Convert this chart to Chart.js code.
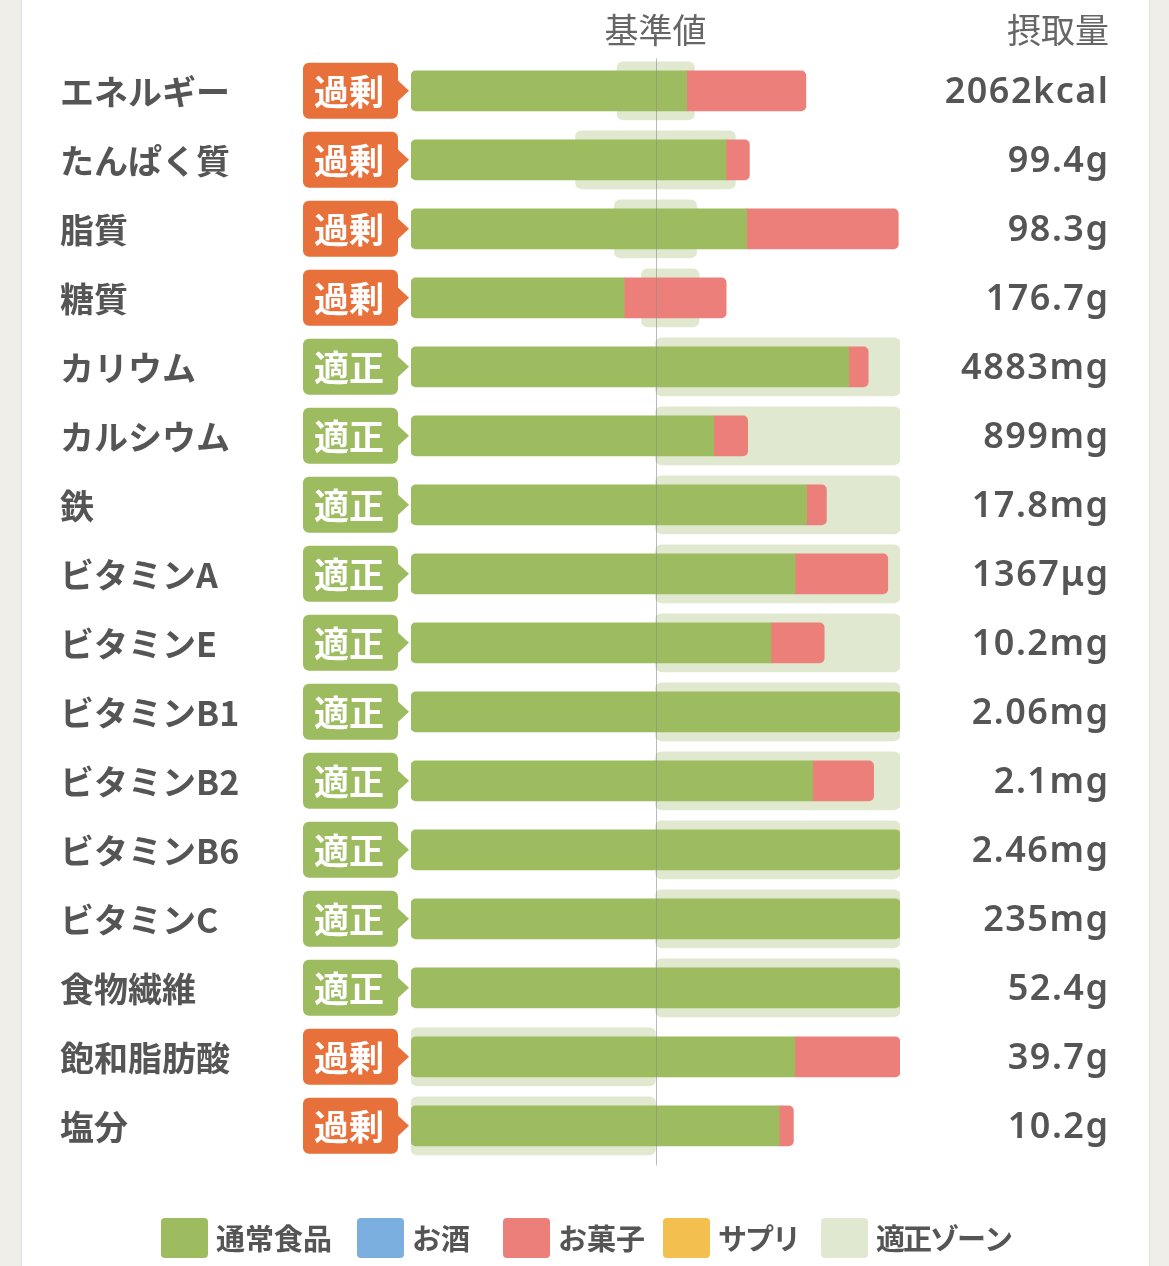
<!DOCTYPE html>
<html lang="ja">
<head>
<meta charset="utf-8">
<title>栄養素バランス</title>
<script src="https://cdn.jsdelivr.net/npm/chart.js@4.4.0/dist/chart.umd.min.js"></script>
<style>
html, body { margin: 0; padding: 0; background: #efeee9; overflow: hidden; }
#card {
    position: absolute; left: 21px; top: 0; width: 1127px; height: 1266px;
    background: #fff; border-left: 1px solid #e2e1db; border-right: 1px solid #e2e1db;
}
#wrap { position: absolute; left: 0; top: 0; width: 1169px; height: 1266px; }
</style>
</head>
<body>
<div id="card"></div>
<div id="wrap"><canvas id="chart" width="1169" height="1266"></canvas></div>
<script>
// ----- data (percent of 基準値, axis clipped at 200) -----
const nutrients = ['エネルギー', 'たんぱく質', '脂質', '糖質', 'カリウム', 'カルシウム', '鉄',
    'ビタミンA', 'ビタミンE', 'ビタミンB1', 'ビタミンB2', 'ビタミンB6', 'ビタミンC',
    '食物繊維', '飽和脂肪酸', '塩分'];
const judgement = ['過剰', '過剰', '過剰', '過剰', '適正', '適正', '適正', '適正', '適正',
    '適正', '適正', '適正', '適正', '適正', '過剰', '過剰'];
const normalFood = [112.7, 128.8, 137.3, 87.2, 179.1, 123.8, 161.8, 157.1, 147.2,
    200, 164.3, 200, 200, 200, 157.0, 150.6];
const snacks = [48.8, 9.6, 62.0, 41.7, 7.9, 13.9, 8.1, 37.9, 21.8,
    0, 24.9, 0, 0, 0, 43.0, 5.8];
const zoneLow = [84.3, 67.3, 83.2, 94.3, 100, 100, 100, 100, 100, 100, 100, 100, 100, 100, 0, 0];
const zoneHigh = [115.9, 132.7, 116.8, 117.8, 200, 200, 200, 200, 200, 200, 200, 200, 200, 200, 100, 100];
const intake = ['2062kcal', '99.4g', '98.3g', '176.7g', '4883mg', '899mg', '17.8mg', '1367μg',
    '10.2mg', '2.06mg', '2.1mg', '2.46mg', '235mg', '52.4g', '39.7g', '10.2g'];
const legendLabels = ['通常食品', 'お酒', 'お菓子', 'サプリ', '適正ゾーン'];

// ----- colours -----
const GREEN = '#9dbb5f';
const PINK = '#ed7f7b';
const ZONE = '#e0e9cf';
const ORANGE = '#e8703b';
const BLUE = '#7aafe0';
const YELLOW = '#f3bf4f';
const TEXT = '#555555';
const legendColors = [GREEN, BLUE, PINK, YELLOW, ZONE];
const legendX = [161, 357, 503, 663, 821];
const legendTrack = [0, 0, 0, -2, -2];

const JP = '"Noto Sans CJK JP", "Noto Sans", sans-serif';

// labels, badges, values, reference line and legend
const rowDecor = {
    id: 'rowDecor',
    afterDatasetsDraw(chart) {
        const { ctx, chartArea, scales: { x } } = chart;
        const rx = Math.round(x.getPixelForValue(100)) + 0.5;
        ctx.save();
        ctx.strokeStyle = 'rgba(140,140,140,0.6)';
        ctx.lineWidth = 1;
        ctx.beginPath();
        ctx.moveTo(rx, chartArea.top + 2);
        ctx.lineTo(rx, chartArea.bottom + 5);
        ctx.stroke();
        ctx.restore();
    },
    afterDraw(chart) {
        const { ctx, scales: { x, y } } = chart;
        ctx.save();
        ctx.textBaseline = 'middle';

        // headers
        ctx.fillStyle = '#666';
        ctx.font = '400 34px ' + JP;
        ctx.textAlign = 'center';
        ctx.fillText('基準値', x.getPixelForValue(100), 30);
        ctx.textAlign = 'right';
        ctx.fillText('摂取量', 1109, 30);

        nutrients.forEach((name, i) => {
            const cy = y.getPixelForValue(i);

            // name
            ctx.fillStyle = TEXT;
            ctx.font = '700 34px ' + JP;
            ctx.textAlign = 'left';
            ctx.fillText(name, 60, cy + 1);

            // badge with arrow
            ctx.fillStyle = judgement[i] === '過剰' ? ORANGE : GREEN;
            ctx.beginPath();
            ctx.roundRect(303, cy - 28, 95, 56, 6);
            ctx.fill();
            ctx.beginPath();
            ctx.moveTo(396, cy - 12);
            ctx.lineTo(409, cy);
            ctx.lineTo(396, cy + 12);
            ctx.closePath();
            ctx.fill();
            ctx.fillStyle = '#fff';
            ctx.font = '700 35px ' + JP;
            ctx.textAlign = 'center';
            ctx.fillText(judgement[i], 349, cy + 1);

            // intake value
            ctx.fillStyle = TEXT;
            ctx.font = '600 36px "Noto Sans", sans-serif';
            ctx.letterSpacing = '1.5px';
            ctx.textAlign = 'right';
            ctx.fillText(intake[i], 1109.5, cy + 2);
            ctx.letterSpacing = '0px';
        });

        // legend
        ctx.font = '700 29px ' + JP;
        legendLabels.forEach((t, i) => {
            const lx = legendX[i];
            ctx.fillStyle = legendColors[i];
            ctx.beginPath();
            ctx.roundRect(lx, 1218, 47, 40, 4);
            ctx.fill();
            ctx.fillStyle = TEXT;
            ctx.textAlign = 'left';
            ctx.letterSpacing = legendTrack[i] + 'px';
            ctx.fillText(t, lx + 55, 1239);
            ctx.letterSpacing = '0px';
        });
        ctx.restore();
    }
};

new Chart(document.getElementById('chart'), {
    type: 'bar',
    data: {
        labels: nutrients,
        datasets: [
            {
                label: '通常食品',
                data: normalFood,
                backgroundColor: GREEN,
                stack: 'intake',
                xAxisID: 'x',
                grouped: false,
                barThickness: 40,
                borderSkipped: false,
                borderRadius: c => {
                    const full = snacks[c.dataIndex] === 0;
                    return { topLeft: 5, bottomLeft: 5, topRight: full ? 5 : 0, bottomRight: full ? 5 : 0 };
                },
                order: 0
            },
            {
                label: 'お菓子',
                data: snacks,
                backgroundColor: PINK,
                stack: 'intake',
                xAxisID: 'x',
                grouped: false,
                barThickness: 40,
                borderSkipped: false,
                borderRadius: { topLeft: 0, bottomLeft: 0, topRight: 5, bottomRight: 5 },
                order: 0
            },
            {
                label: '適正ゾーン',
                data: zoneLow.map((lo, i) => [lo, zoneHigh[i]]),
                backgroundColor: ZONE,
                xAxisID: 'xz',
                grouped: false,
                barThickness: 58,
                borderSkipped: false,
                borderRadius: { topLeft: 6, bottomLeft: 6, topRight: 6, bottomRight: 6 },
                order: 1
            }
        ]
    },
    options: {
        indexAxis: 'y',
        responsive: false,
        animation: false,
        layout: { padding: { left: 411, right: 269, top: 56.3, bottom: 105.7 } },
        scales: {
            x: { type: 'linear', min: 0, max: 200, stacked: true, display: false },
            xz: { type: 'linear', axis: 'x', min: 0, max: 200, display: false },
            y: { type: 'category', stacked: true, display: false }
        },
        plugins: {
            legend: { display: false },
            tooltip: { enabled: false }
        }
    },
    plugins: [rowDecor]
});
</script>
</body>
</html>
